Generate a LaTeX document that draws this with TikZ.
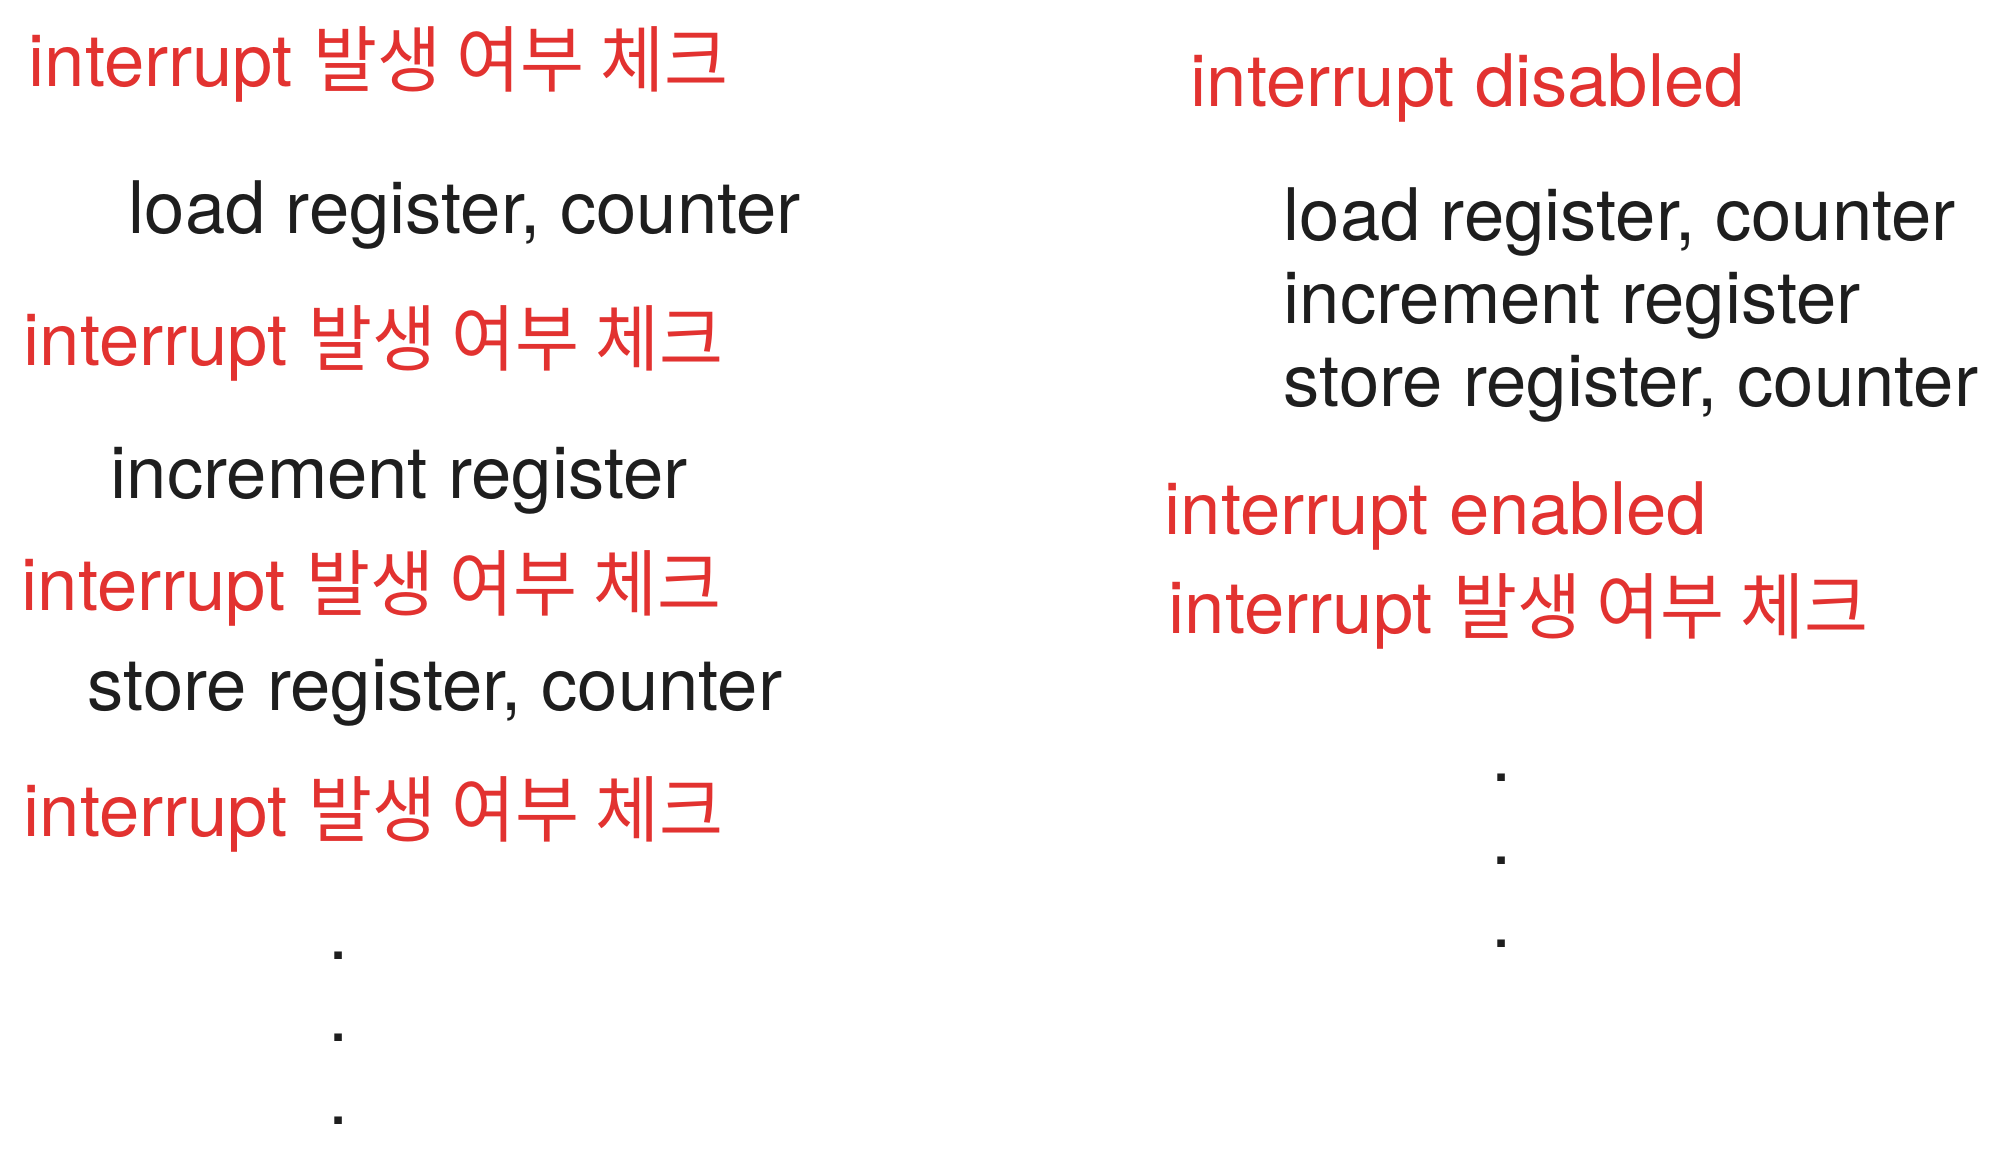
\documentclass[tikz,border=0pt]{standalone}
\usepackage{fontspec}
\setmainfont{TeX Gyre Heros}
\newfontfamily\kr[FakeStretch=0.96]{Noto Sans CJK KR}
\usetikzlibrary{positioning}
\definecolor{chkred}{RGB}{226,50,48}
\definecolor{optext}{RGB}{30,30,30}

\begin{document}
\begin{tikzpicture}[x=0.01cm,y=-0.01cm,
  txt/.style={inner sep=0pt,anchor=base west,font=\fontsize{20.6}{24}\selectfont},
  chk/.style={txt,text=chkred},
  op/.style={txt,text=optext}]
  \useasboundingbox (0,0) rectangle (1998,1160);
  % left: check after every instruction
  \begin{scope}
    \node[chk] (chka) at (28,86)  {interrupt {\kr 발생 여부 체크}};
    \node[op]  (lda)  at (128,233) {load register, counter};
    \node[chk] (chkb) at (23,365) {interrupt {\kr 발생 여부 체크}};
    \node[op]  (inca) at (110,498) {increment register};
    \node[chk] (chkc) at (21,610) {interrupt {\kr 발생 여부 체크}};
    \node[op]  (sta)  at (87,710) {store register, counter};
    \node[chk] (chkd) at (23,836) {interrupt {\kr 발생 여부 체크}};
    \foreach \y [count=\i] in {959,1041,1124}
      \node[op,anchor=base] (dota\i) at (339,\y) {.};
  \end{scope}
  % right: interrupts off around the block
  \begin{scope}
    \node[chk] (dis)  at (1190,106) {interrupt disabled};
    \node[op]  (ldb)  at (1283,240) {load register, counter};
    \node[op]  (incb) at (1283,323) {increment register};
    \node[op]  (stb)  at (1283,406) {store register, counter};
    \node[chk] (ena)  at (1164,534) {interrupt enabled};
    \node[chk] (chke) at (1168,633) {interrupt {\kr 발생 여부 체크}};
    \foreach \y [count=\i] in {781,864,947}
      \node[op,anchor=base] (dotb\i) at (1502,\y) {.};
  \end{scope}
\end{tikzpicture}
\end{document}
